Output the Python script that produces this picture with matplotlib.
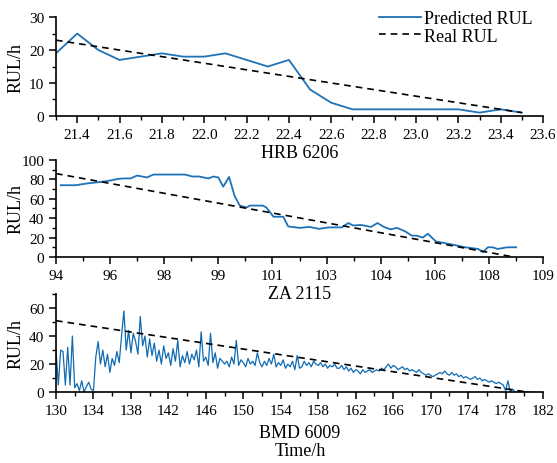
import numpy as np
import matplotlib
matplotlib.use("Agg")
import matplotlib.pyplot as plt
from matplotlib.ticker import MultipleLocator, FixedLocator

plt.rcParams["font.family"] = ["Liberation Serif", "DejaVu Serif"]

BLUE = "#1f72b8"

# HRB 6206
hrb_time = [21.3, 21.4, 21.5, 21.6, 21.7, 21.8, 21.9, 22.0, 22.1, 22.2, 22.3, 22.4,
            22.5, 22.6, 22.7, 22.8, 22.9, 23.0, 23.1, 23.2, 23.3, 23.4, 23.5]
hrb_pred = [19, 25, 20, 17, 18, 19, 18, 18, 19, 17, 15, 17,
            8, 4, 2, 2, 2, 2, 2, 2, 1, 2, 1]
hrb_real_t = [21.3, 23.5]
hrb_real = [23, 1]

# ZA 2115
za_time = [94.15, 94.6, 95.0, 95.4, 95.7, 95.9, 96.1, 96.3, 96.5, 96.8, 97.0, 97.5,
           97.97, 98.2, 98.4, 98.7, 98.85, 99.0, 99.15, 99.33, 99.5, 99.66, 99.87,
           99.97, 100.37, 100.48, 100.7, 101.0, 101.15, 101.5, 101.8, 102.1, 102.4,
           102.8, 103.0, 103.15, 103.4, 103.7, 103.9, 104.1, 104.3, 104.5, 104.75,
           104.96, 105.1, 105.3, 105.45, 105.7, 106.1, 106.6, 107.0, 107.15, 107.3,
           107.45, 107.6, 107.9, 108.17]
za_pred = [74, 74, 76, 77.5, 79, 80.5, 81, 81, 84, 82, 85, 85,
           85, 83, 83, 81, 83, 82, 72.5, 82.5, 63, 53, 51,
           53, 53, 51, 41.5, 41.5, 31.5, 30, 31, 29, 30.5,
           30.5, 35, 32.5, 33, 31, 35, 31, 28.5, 30, 26.5,
           22, 22, 20, 24, 16, 13.5, 10, 8.3, 5, 10,
           10, 8.3, 10, 10]
za_real_t = [94.0, 108.1]
za_real = [86, 0]
za_ticks = np.linspace(94, 109, 10)
za_labels = ["94", "96", "98", "99", "101", "103", "104", "106", "108", "109"]

# BMD 6009, sampled every 0.25 h from 130 h
bmd_start, bmd_step = 130.0, 0.25
bmd_pred = [30, 5, 30, 29, 5, 32, 5, 40,
            3, 6, 1, 8, 0, 4, 7, 2, 1,
            25, 36, 20, 30, 18, 27, 14, 24, 19, 29, 21,
            40, 58, 30, 44, 28, 42, 36, 27, 54, 33, 40, 25, 38,
            26, 35, 22, 30, 20, 33, 24, 28, 19, 31, 22, 37, 18, 26, 21, 29,
            20, 27, 23, 30, 18, 43, 22, 25, 19, 42, 21, 28, 17, 24, 22, 20,
            22, 18, 25, 20, 37, 19, 23, 21, 18, 24, 20, 22, 19, 28, 21, 18,
            22, 19, 24, 20, 27, 18, 21, 19, 23, 17, 20, 18, 22, 16, 26, 17,
            18, 22, 19, 21, 18, 22, 20, 19, 21, 18, 20, 17, 19, 18, 20, 17,
            17, 19, 16, 18, 15, 17, 14, 16, 15, 13, 16, 14, 15, 16, 14, 15,
            16, 15, 17, 16, 18, 20, 17, 19, 18, 16, 17, 18, 16, 17, 15, 16,
            15, 14, 16, 14, 13, 12, 13, 12, 11, 12, 13, 14, 13, 15, 13, 12,
            14, 12, 13, 11, 12, 10, 11, 10, 9, 10, 11, 9, 10, 8, 9, 8,
            7, 8, 7, 6, 7, 6, 5, 1,
            8, 0, 2, 0, 0, 0, 0, 0, 0, 0, 0, 0]
bmd_time = bmd_start + bmd_step * np.arange(len(bmd_pred))
bmd_real_t = [130.0, 180.3]
bmd_real = [51, 0]


def style_axes(ax):
    ax.patch.set_alpha(0)
    ax.spines["top"].set_visible(False)
    ax.spines["right"].set_visible(False)
    ax.spines["left"].set_linewidth(1.2)
    ax.spines["bottom"].set_linewidth(1.2)
    ax.tick_params(which="major", direction="out", length=5, width=1.1, labelsize=11)
    ax.tick_params(which="minor", direction="out", length=3, width=1.0)
    ax.set_ylabel("RUL/h", fontsize=13)


fig = plt.figure(figsize=(5.57, 4.64), dpi=100)
ax1 = fig.add_axes([0.1005, 0.748, 0.8745, 0.213])
ax2 = fig.add_axes([0.1005, 0.444, 0.8745, 0.209])
ax3 = fig.add_axes([0.1005, 0.153, 0.8745, 0.211])

ax1.plot(hrb_time, hrb_pred, color=BLUE, lw=1.3, label="Predicted RUL")
ax1.plot(hrb_real_t, hrb_real, color="black", lw=1.2, ls=(0, (4, 3)), label="Real RUL")
ax1.set_xlim(21.3, 23.6)
ax1.set_ylim(0, 30)
hrb_ticks = np.arange(21.4, 23.61, 0.2)
ax1.xaxis.set_major_locator(FixedLocator(hrb_ticks))
ax1.xaxis.set_minor_locator(MultipleLocator(0.1))
ax1.yaxis.set_major_locator(MultipleLocator(10))
ax1.yaxis.set_minor_locator(MultipleLocator(5))
ax1.set_xticklabels([f"{v:.1f}" for v in hrb_ticks])
style_axes(ax1)
ax1.set_xlabel("HRB 6206", fontsize=13, labelpad=2)
ax1.legend(loc="upper right", bbox_to_anchor=(0.975, 1.0), bbox_transform=fig.transFigure,
           frameon=False, fontsize=13, handlelength=2.3, handletextpad=0.15,
           labelspacing=0.05, borderaxespad=0.2)

ax2.plot(za_time, za_pred, color=BLUE, lw=1.3)
ax2.plot(za_real_t, za_real, color="black", lw=1.2, ls=(0, (4, 3)))
ax2.set_xlim(94, 109)
ax2.set_ylim(0, 100)
ax2.set_xticks(za_ticks)
ax2.set_xticklabels(za_labels)
ax2.xaxis.set_minor_locator(FixedLocator((za_ticks[:-1] + za_ticks[1:]) / 2))
ax2.yaxis.set_major_locator(MultipleLocator(20))
ax2.yaxis.set_minor_locator(MultipleLocator(10))
style_axes(ax2)
ax2.set_xlabel("ZA 2115", fontsize=13, labelpad=2)

ax3.plot(bmd_time, bmd_pred, color="#0f6bb3", lw=0.9)
ax3.plot(bmd_real_t, bmd_real, color="black", lw=1.2, ls=(0, (4, 3)))
ax3.set_xlim(130, 182)
ax3.set_ylim(0, 70)
ax3.xaxis.set_major_locator(FixedLocator(np.arange(130, 183, 4)))
ax3.xaxis.set_minor_locator(FixedLocator(np.arange(130, 183, 2)))
ax3.yaxis.set_major_locator(FixedLocator([0, 20, 40, 60]))
ax3.yaxis.set_minor_locator(MultipleLocator(10))
style_axes(ax3)
ax3.set_xlabel("BMD 6009", fontsize=13, labelpad=5)
fig.text(0.54, 0.008, "Time/h", fontsize=13, ha="center", va="bottom")

for ax in (ax1, ax2, ax3):
    ax.yaxis.set_label_coords(-0.065, 0.5)
ax2.set_zorder(3)

fig.savefig("out.png", dpi=100)
